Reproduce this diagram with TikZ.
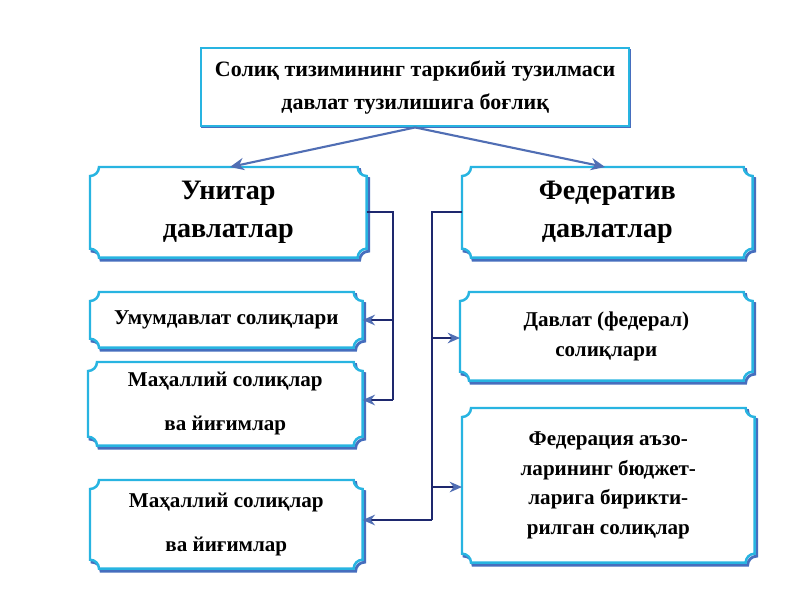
\documentclass[tikz,border=0pt]{standalone}
\usepackage{fontspec}
\setmainfont{Liberation Serif}
\usetikzlibrary{calc,arrows.meta}

\definecolor{rimblue}{RGB}{40,180,225}
\definecolor{shadeblue}{RGB}{70,110,190}
\definecolor{navyline}{RGB}{30,40,110}
\definecolor{tipblue}{RGB}{80,110,180}

\tikzset{
    box/.style={anchor=north west, inner sep=0pt, align=center, font=\bfseries},
    plaqueline/.style={line width=1.4pt, rimblue, fill=white},
    shadeline/.style={line width=1.6pt, shadeblue},
    link/.style={line width=1.3pt, navyline},
    arrowlink/.style={line width=1.3pt, navyline, -{Stealth[tipblue,length=7pt,width=6pt]}},
    feed/.style={line width=1.2pt, tipblue, -{Stealth[length=8pt,width=7pt]}},
    bigtext/.style={font=\bfseries\fontsize{16pt}{22pt}\selectfont},
    smalltext/.style={font=\bfseries\fontsize{12pt}{17pt}\selectfont},
    widetext/.style={font=\bfseries\fontsize{12pt}{25pt}\selectfont},
}

% concave-cornered plaque around a named node
\newcommand\plaqueshape[2]{%
    ($(#1.north west)+(#2)+(0.18cm,0)$) -- ($(#1.north east)+(#2)+(-0.18cm,0)$)
    arc[start angle=180,end angle=270,radius=0.18cm]
    -- ($(#1.south east)+(#2)+(0,0.18cm)$)
    arc[start angle=90,end angle=180,radius=0.18cm]
    -- ($(#1.south west)+(#2)+(0.18cm,0)$)
    arc[start angle=0,end angle=90,radius=0.18cm]
    -- ($(#1.north west)+(#2)+(0,-0.18cm)$)
    arc[start angle=270,end angle=360,radius=0.18cm] -- cycle}
\newcommand\plaque[3]{%
    \draw[shadeline] \plaqueshape{#1}{0.04cm,-0.05cm};
    \draw[plaqueline] \plaqueshape{#1}{0,0};
    \node at (#1) [align=center, #2] {#3};}

\begin{document}
\begin{tikzpicture}[x=0.02cm, y=-0.02cm]
        \useasboundingbox[fill=white] (0,0) rectangle (800,600);

        % Top box
        \draw[shadeline] (202,50) rectangle (630,127);
        \node (top) [box, draw=rimblue, line width=1.4pt, fill=white,
            minimum width=8.56cm, minimum height=1.56cm, font=\bfseries\fontsize{12.5pt}{19pt}\selectfont]
            at (200,47) {Солиқ тизимининг таркибий тузилмаси\\давлат тузилишига боғлиқ};

        % Plaque boxes (empty nodes, text added by \plaque)
        \node (unit) [box, minimum width=5.52cm, minimum height=1.8cm] at (90,167) {};
        \node (fed) [box, minimum width=5.8cm, minimum height=1.8cm] at (462,167) {};
        \node (umum) [box, minimum width=5.44cm, minimum height=1.1cm] at (90,292) {};
        \node (mah) [box, minimum width=5.48cm, minimum height=1.66cm] at (88,362) {};
        \node (dav) [box, minimum width=5.84cm, minimum height=1.76cm] at (460,292) {};
        \node (azo) [box, minimum width=5.84cm, minimum height=3.08cm] at (462,408) {};
        \node (mahb) [box, minimum width=5.44cm, minimum height=1.76cm] at (90,480) {};

        \plaque{unit}{bigtext}{Унитар\\давлатлар}
        \plaque{fed}{bigtext}{Федератив\\давлатлар}
        \plaque{umum}{smalltext}{Умумдавлат солиқлари}
        \plaque{mah}{widetext}{Маҳаллий солиқлар\\ва йиғимлар}
        \plaque{dav}{smalltext}{Давлат (федерал)\\солиқлари}
        \plaque{azo}{smalltext}{Федерация аъзо-\\ларининг бюджет-\\ларига бирикти-\\рилган солиқлар}
        \plaque{mahb}{widetext}{Маҳаллий солиқлар\\ва йиғимлар}

        % Top arrows
        \draw[feed] (top.south) -- ($(unit.north west)+(2.8cm,0)$);
        \draw[feed] (top.south) -- ($(fed.north west)+(2.86cm,0)$);

        % Unitary branch
        \coordinate (ua) at (393,212);
        \coordinate (ub) at (393,320);
        \coordinate (uc) at (393,400);
        \draw[link] (unit.east |- ua) -- (ua) -- (uc);
        \draw[arrowlink] (ub) -- (umum.east |- ub);
        \draw[arrowlink] (uc) -- (mah.east |- uc);

        % Federative branch
        \coordinate (fa) at (432,212);
        \coordinate (fb) at (432,338);
        \coordinate (fc) at (432,487);
        \coordinate (fd) at (432,520);
        \draw[link] (fed.west |- fa) -- (fa) -- (fd);
        \draw[arrowlink] (fb) -- (dav.west |- fb);
        \draw[arrowlink] (fc) -- (azo.west |- fc);
        \draw[arrowlink] (fd) -- (mahb.east |- fd);
\end{tikzpicture}
\end{document}
